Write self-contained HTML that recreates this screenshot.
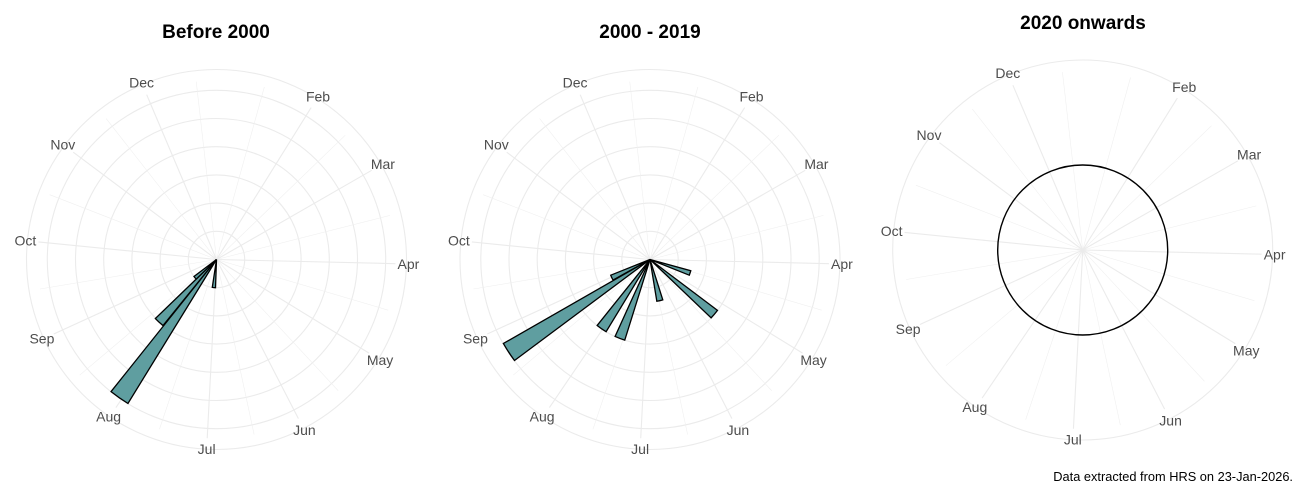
<!DOCTYPE html>
<html><head><meta charset="utf-8"><style>
body{margin:0;background:#fff;width:1300px;height:500px;overflow:hidden}
svg{display:block}
.t{font:bold 19px "Liberation Sans",sans-serif;fill:#000;text-anchor:middle}
.l{font:14px "Liberation Sans",sans-serif;fill:#4d4d4d;text-anchor:middle;dominant-baseline:central}
</style></head><body>
<svg id="s" width="1300" height="500" xmlns="http://www.w3.org/2000/svg">
<text class="t" x="216" y="38">Before 2000</text>
<text class="t" x="650" y="38">2000 - 2019</text>
<text class="t" x="1083" y="29">2020 onwards</text>
<g id="p1" transform="translate(216.5,259.5)"></g>
<g id="p2" transform="translate(650,259.5)"></g>
<g id="p3" transform="translate(1082.7,250)"></g>
<g transform="translate(216.5,259.5)">
<text class="l" x="101.5" y="-163">Feb</text><text class="l" x="166.4" y="-95.6">Mar</text><text class="l" x="191.9" y="4.5">Apr</text><text class="l" x="163.6" y="100.5">May</text><text class="l" x="87.9" y="170.7">Jun</text><text class="l" x="-9.9" y="189.7">Jul</text><text class="l" x="-107.9" y="156.8">Aug</text><text class="l" x="-174.6" y="78.9">Sep</text><text class="l" x="-191.1" y="-18.8">Oct</text><text class="l" x="-153.7" y="-115.1">Nov</text><text class="l" x="-74.9" y="-176.8">Dec</text>
</g>
<g transform="translate(650,259.5)">
<text class="l" x="101.5" y="-163">Feb</text><text class="l" x="166.4" y="-95.6">Mar</text><text class="l" x="191.9" y="4.5">Apr</text><text class="l" x="163.6" y="100.5">May</text><text class="l" x="87.9" y="170.7">Jun</text><text class="l" x="-9.9" y="189.7">Jul</text><text class="l" x="-107.9" y="156.8">Aug</text><text class="l" x="-174.6" y="78.9">Sep</text><text class="l" x="-191.1" y="-18.8">Oct</text><text class="l" x="-153.7" y="-115.1">Nov</text><text class="l" x="-74.9" y="-176.8">Dec</text>
</g>
<g transform="translate(1082.7,250)">
<text class="l" x="101.5" y="-163">Feb</text><text class="l" x="166.4" y="-95.6">Mar</text><text class="l" x="191.9" y="4.5">Apr</text><text class="l" x="163.6" y="100.5">May</text><text class="l" x="87.9" y="170.7">Jun</text><text class="l" x="-9.9" y="189.7">Jul</text><text class="l" x="-107.9" y="156.8">Aug</text><text class="l" x="-174.6" y="78.9">Sep</text><text class="l" x="-191.1" y="-18.8">Oct</text><text class="l" x="-153.7" y="-115.1">Nov</text><text class="l" x="-74.9" y="-176.8">Dec</text>
</g>
<text x="1293" y="481" style="font:12.8px 'Liberation Sans',sans-serif;text-anchor:end;fill:#000">Data extracted from HRS on 23-Jan-2026.</text>
</svg>
<script>
var NS="http://www.w3.org/2000/svg";
function el(g,n,a){var e=document.createElementNS(NS,n);for(var k in a)e.setAttribute(k,a[k]);g.appendChild(e);return e;}
var days=[31,59,90,120,151,181,212,243,273,304,334];
function ang(d){return (d+0.7)*1.007;}
function pt(a,r){var t=a*Math.PI/180;return [r*Math.sin(t),-r*Math.cos(t)];}
var majors=days.map(ang);
var minors=[];for(var i=0;i<majors.length-1;i++)minors.push((majors[i]+majors[i+1])/2);
minors.push(15.5);minors.push(353.5);
function grid(g,rings){
  el(g,"circle",{cx:0,cy:0,r:190,fill:"none",stroke:"#ebebeb","stroke-width":1.1});
  if(rings)for(var k=1;k<=6;k++)el(g,"circle",{cx:0,cy:0,r:28.2*k,fill:"none",stroke:"#ebebeb","stroke-width":1.1});
  minors.forEach(function(a){var p=pt(a,179);el(g,"line",{x1:0,y1:0,x2:p[0],y2:p[1],stroke:"#f0f0f0","stroke-width":0.6});});
  majors.forEach(function(a){var p=pt(a,179);el(g,"line",{x1:0,y1:0,x2:p[0],y2:p[1],stroke:"#ebebeb","stroke-width":1.1});});
}
function bar(g,a1,a2,r){var p=pt(a1,r),q=pt(a2,r);
  el(g,"path",{d:"M0,0L"+p[0]+","+p[1]+"A"+r+","+r+" 0 0 1 "+q[0]+","+q[1]+"Z",fill:"#5f9ea0",stroke:"#000","stroke-width":1.3,"stroke-linejoin":"miter"});}
var g1=document.getElementById("p1"),g2=document.getElementById("p2"),g3=document.getElementById("p3");
grid(g1,true);grid(g2,true);grid(g3,false);
[[211.6,218.6,169],[219,226,85],[226,233,28.2],[182,188.6,28.2]].forEach(function(b){bar(g1,b[0],b[1],b[2]);});
[[233.3,240.2,169],[240.9,248.2,42.3],[211.3,218.7,84.5],[197.4,204.4,84.5],[162.4,170.7,42.3],[127,133.7,84.5],[105.4,111.8,42.3]].forEach(function(b){bar(g2,b[0],b[1],b[2]);});
el(g3,"circle",{cx:0,cy:0,r:85,fill:"none",stroke:"#000","stroke-width":1.4});
</script>
</body></html>
